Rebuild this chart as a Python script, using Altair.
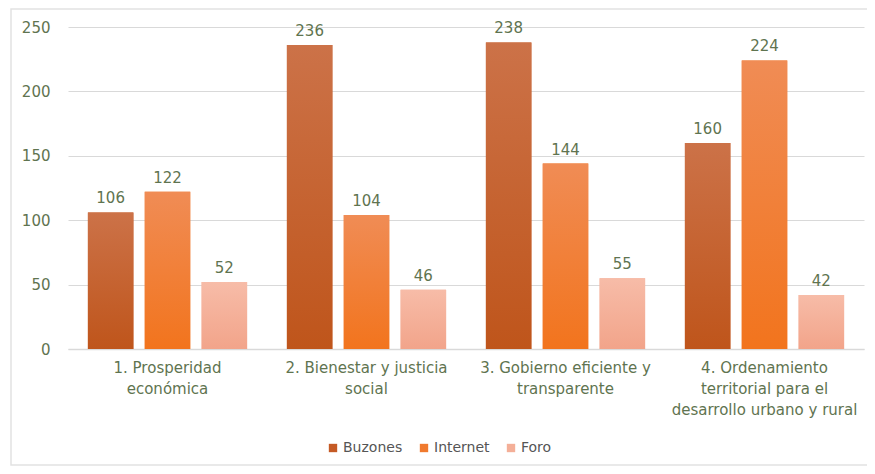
import altair as alt
import pandas as pd

categories = [
    "1. Prosperidad económica",
    "2. Bienestar y justicia social",
    "3. Gobierno eficiente y transparente",
    "4. Ordenamiento territorial para el desarrollo urbano y rural",
]
category_lines = [
    ["1. Prosperidad", "económica"],
    ["2. Bienestar y justicia", "social"],
    ["3. Gobierno eficiente y", "transparente"],
    ["4. Ordenamiento", "territorial para el", "desarrollo urbano y rural"],
]
series = ["Buzones", "Internet", "Foro"]
buzones = [106, 236, 238, 160]
internet = [122, 104, 144, 224]
foro = [52, 46, 55, 42]

solid_colors = ["#C55A25", "#F07A2E", "#F4AF98"]
gradient_stops = {
    "Buzones": ["#CC7248", "#BF551B"],
    "Internet": ["#F08C55", "#F2741D"],
    "Foro": ["#F7BCA8", "#F2A48A"],
}

rows = []
for s, vals in zip(series, [buzones, internet, foro]):
    for c, v in zip(categories, vals):
        rows.append({"categoria": c, "serie": s, "valor": v})
df = pd.DataFrame(rows)

FONT = "DejaVu Sans"
TEXT_COLOR = "#5F7450"

# label expression for multi-line axis labels
expr_parts = []
for c, lines in zip(categories, category_lines):
    arr = "[" + ",".join("'" + l + "'" for l in lines) + "]"
    expr_parts.append(f"datum.value == '{c}' ? {arr} : ")
label_expr = "".join(expr_parts) + "datum.label"

x_enc = alt.X(
    "categoria:N",
    sort=categories,
    scale=alt.Scale(paddingInner=0.2, paddingOuter=0.1),
    axis=alt.Axis(
        title=None,
        labelAngle=0,
        labelExpr=label_expr,
        labelFont=FONT,
        labelFontSize=15,
        labelColor=TEXT_COLOR,
        labelPadding=11,
        labelLineHeight=21,
        labelLimit=400,
        ticks=False,
        domainColor="#D9D9D9",
        domainWidth=1.5,
        labelBaseline="top",
    ),
)
xoff_enc = alt.XOffset(
    "serie:N", sort=series, scale=alt.Scale(domain=series, paddingInner=0.2)
)
y_enc = alt.Y(
    "valor:Q",
    scale=alt.Scale(domain=[0, 250]),
    axis=alt.Axis(
        title=None,
        values=[0, 50, 100, 150, 200, 250],
        labelFont=FONT,
        labelFontSize=15,
        labelColor=TEXT_COLOR,
        labelPadding=18,
        ticks=False,
        domain=False,
        gridColor="#D9D9D9",
        gridWidth=1.2,
    ),
)

base = alt.Chart(df)

solid = base.mark_bar().encode(
    x=x_enc,
    xOffset=xoff_enc,
    y=y_enc,
    color=alt.Color(
        "serie:N",
        sort=series,
        scale=alt.Scale(domain=series, range=solid_colors),
        legend=alt.Legend(
            title=None,
            orient="none",
            legendX=258,
            legendY=414,
            direction="horizontal",
            symbolType="square",
            symbolSize=70,
            symbolStrokeWidth=0,
            labelFont=FONT,
            labelFontSize=14,
            labelColor="#555555",
            columnPadding=14,
            labelOffset=3,
        ),
    ),
)

layers = [solid]
for s in series:
    top, bottom = gradient_stops[s]
    grad = alt.Gradient(
        gradient="linear",
        stops=[
            alt.GradientStop(color=top, offset=0),
            alt.GradientStop(color=bottom, offset=1),
        ],
        x1=0, x2=0, y1=0, y2=1,
    )
    layers.append(
        base.transform_filter(alt.datum.serie == s)
        .mark_bar(fill=grad)
        .encode(x=x_enc, xOffset=xoff_enc, y=y_enc)
    )

labels = base.mark_text(
    font=FONT, fontSize=15, color=TEXT_COLOR, baseline="bottom", dy=-6
).encode(x=x_enc, xOffset=xoff_enc, y=y_enc, text="valor:Q")
layers.append(labels)

border = alt.Chart(pd.DataFrame({"a": [0]})).mark_rect(
    fill=None, stroke="#E2E2E2", strokeWidth=1.5, clip=False
).encode(
    x=alt.value(-57), x2=alt.value(801), y=alt.value(-18), y2=alt.value(438)
)
layers.append(border)

chart = (
    alt.layer(*layers)
    .properties(
        width=796,
        height=322,
        padding={"left": 60, "top": 19, "right": 3, "bottom": 117},
        autosize=alt.AutoSizeParams(type="none"),
        background="white",
    )
    .configure_view(stroke=None)
)

chart.save("out.html", embed_options={"renderer": "svg", "actions": False})
